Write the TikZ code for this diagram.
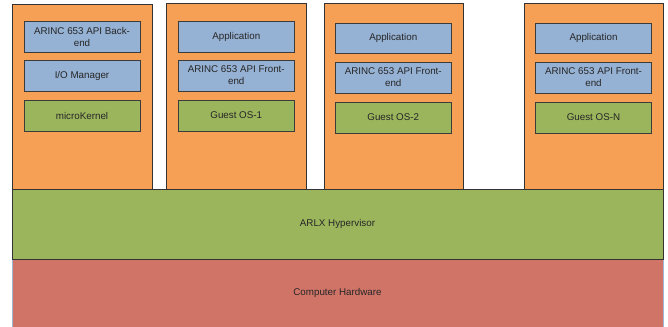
\documentclass[tikz,border=0pt]{standalone}
\usepackage{fontspec}
\setmainfont{Liberation Sans}
\definecolor{orng}{HTML}{F6A055}
\definecolor{bluebx}{HTML}{95B1D3}
\definecolor{grn}{HTML}{9BB55D}
\definecolor{redbx}{HTML}{D07468}
\definecolor{edge}{HTML}{333333}
\definecolor{hwedge}{HTML}{9FB8DA}
\tikzset{
  col/.style={draw=edge, fill=orng, line width=0.9pt},
  bbox/.style={draw=edge!90!gray, fill=bluebx, line width=0.9pt},
  gbox/.style={draw=edge!90!gray, fill=grn, line width=0.9pt},
  lbl/.style={font=\fontsize{9.8}{12}\selectfont, align=center, text=black!85},
}
\begin{document}
\begin{tikzpicture}[x=1pt,y=-1pt]
\useasboundingbox (0,0) rectangle (668,326);
% hardware
\filldraw[fill=redbx, draw=hwedge, line width=0.8pt] (12,259) rectangle (663,327);
\node[lbl] (hw) at (337.5,293) {Computer Hardware};
% columns
\filldraw[col] (12,4) rectangle (152,189);
\filldraw[col] (166.5,3) rectangle (306,189);
\filldraw[col] (324,3) rectangle (463,189);
\filldraw[col] (524,3) rectangle (663,189);
% hypervisor
\filldraw[draw=edge, fill=grn, line width=0.9pt] (12,189) rectangle (663,259);
\node[lbl] (hv) at (337.5,224) {ARLX Hypervisor};
% column 1
\filldraw[bbox] (24,21) rectangle (140,52);
\node[lbl] (c1a) at (82,36.5) {ARINC 653 API Back-\\end};
\filldraw[bbox] (24,60) rectangle (140,91);
\node[lbl] (c1b) at (82,75.5) {I/O Manager};
\filldraw[gbox] (24,100) rectangle (140,131);
\node[lbl] (c1c) at (82,115.5) {microKernel};
% column 2
\filldraw[bbox] (178,21) rectangle (294.5,52);
\node[lbl] (c2a) at (236.25,36.5) {Application};
\filldraw[bbox] (178,60) rectangle (294.5,91);
\node[lbl] (c2b) at (236.25,75.5) {ARINC 653 API Front-\\end};
\filldraw[gbox] (178,100) rectangle (294.5,131);
\node[lbl] (c2c) at (236.25,115.5) {Guest OS-1};
% column 3
\filldraw[bbox] (335,23) rectangle (451.5,53);
\node[lbl] (c3a) at (393.25,38) {Application};
\filldraw[bbox] (335,62) rectangle (451.5,93);
\node[lbl] (c3b) at (393.25,77.5) {ARINC 653 API Front-\\end};
\filldraw[gbox] (335,102) rectangle (451.5,133);
\node[lbl] (c3c) at (393.25,117.5) {Guest OS-2};
% column 4
\filldraw[bbox] (535.5,23) rectangle (651.5,53);
\node[lbl] (c4a) at (593.5,38) {Application};
\filldraw[bbox] (535.5,62) rectangle (651.5,93);
\node[lbl] (c4b) at (593.5,77.5) {ARINC 653 API Front-\\end};
\filldraw[gbox] (535.5,102) rectangle (651.5,133);
\node[lbl] (c4c) at (593.5,117.5) {Guest OS-N};
\end{tikzpicture}
\end{document}
